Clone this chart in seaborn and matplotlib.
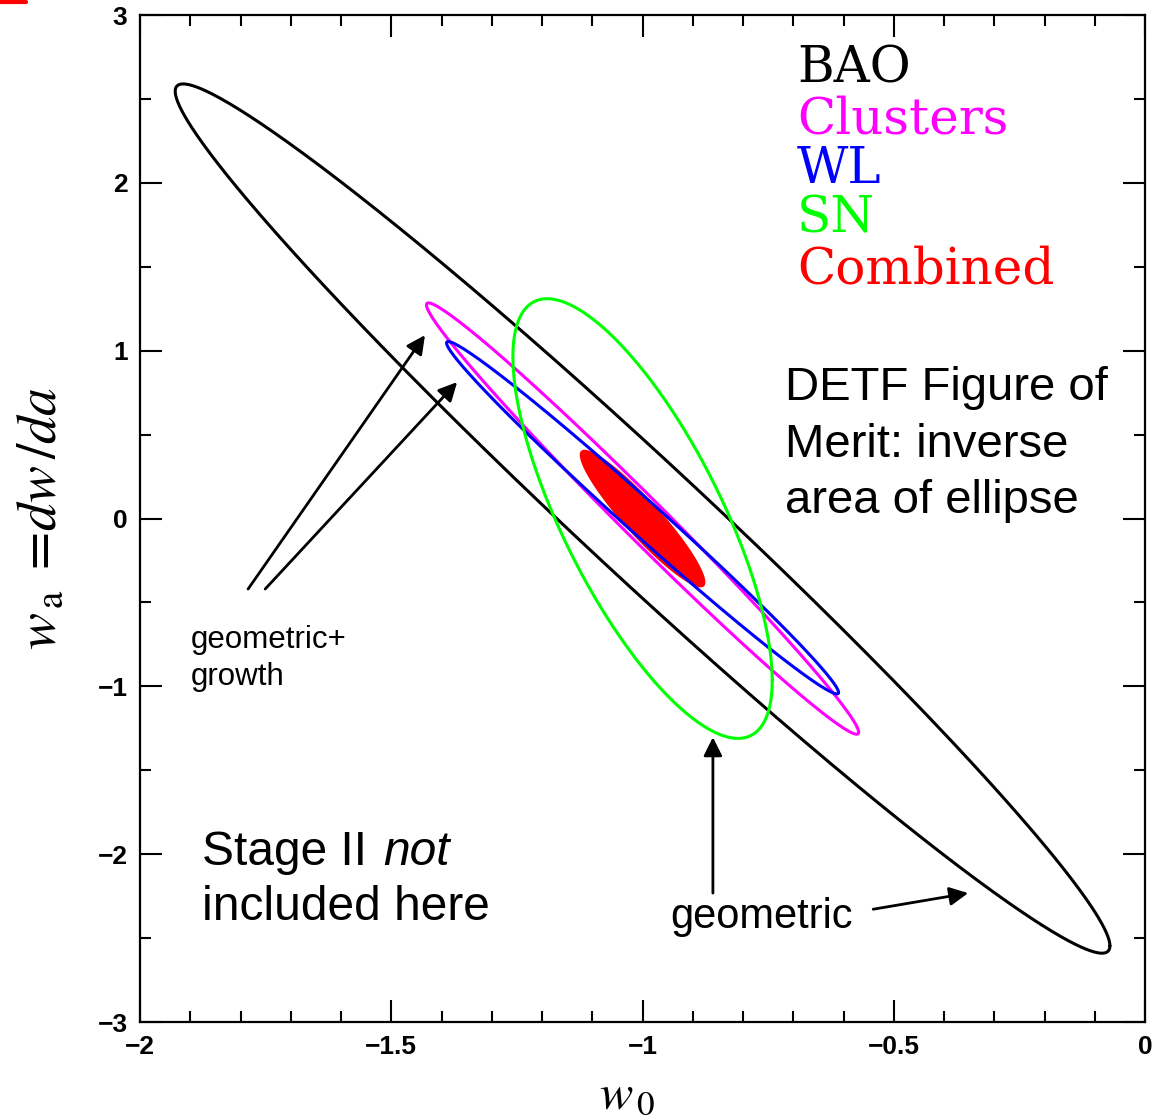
import numpy as np
import pandas as pd
import seaborn as sns
import matplotlib.pyplot as plt
from matplotlib.lines import Line2D
from matplotlib.ticker import MultipleLocator

# ellipse parameters (centre, half-extent in w0 / wa, correlation)
probes = ["BAO", "Clusters", "WL", "SN", "Combined"]
center_w0 = [-1.0, -1.0, -1.0, -1.0, -1.0]
center_wa = [0.0, 0.0, 0.005, 0.0, 0.0]
sigma_w0 = [0.93, 0.43, 0.39, 0.258, 0.125]
sigma_wa = [2.59, 1.285, 1.05, 1.31, 0.41]
rho = [-0.983, -0.9905, -0.9915, -0.736, -0.925]
colors = ["black", "#ff00ff", "#0000ff", "#00ff00", "#ff0000"]

xticks = [-2, -1.5, -1, -0.5, 0]
xtick_labels = ["\u22122", "\u22121.5", "\u22121", "\u22120.5", "0"]
yticks = [-3, -2, -1, 0, 1, 2, 3]
ytick_labels = ["\u22123", "\u22122", "\u22121", "0", "1", "2", "3"]

# arrows: (tail w0, tail wa, head w0, head wa)
arrows = [
    (-1.785, -0.42, -1.433, 1.093),
    (-1.751, -0.42, -1.369, 0.813),
    (-0.860, -2.232, -0.860, -1.303),
    (-0.541, -2.328, -0.352, -2.232),
]

sns.set_theme(style="ticks")
plt.rcParams["font.family"] = ["Liberation Sans", "DejaVu Sans"]
plt.rcParams["mathtext.fontset"] = "stix"
plt.rcParams["text.color"] = "black"
plt.rcParams["axes.labelcolor"] = "black"

t = np.linspace(0, 2 * np.pi, 600)
rows = []
for name, cx, cy, sx, sy, r in zip(probes, center_w0, center_wa, sigma_w0, sigma_wa, rho):
    x = cx + sx * np.cos(t)
    y = cy + sy * (r * np.cos(t) + np.sqrt(1 - r ** 2) * np.sin(t))
    rows.append(pd.DataFrame({"w0": x, "wa": y, "probe": name}))
ellipses = pd.concat(rows, ignore_index=True)

fig = plt.figure(figsize=(11.65, 11.2), dpi=100)
ax = fig.add_axes([0.1202, 0.0875, 0.8627, 0.899])

outlines = ellipses[ellipses["probe"] != "Combined"]
sns.lineplot(data=outlines, x="w0", y="wa", hue="probe", palette=dict(zip(probes, colors)),
             sort=False, estimator=None, linewidth=2.2, legend=False, ax=ax)
comb = ellipses[ellipses["probe"] == "Combined"]
ax.fill(comb["w0"], comb["wa"], color=colors[4], lw=0)

ax.set_xlim(-2, 0)
ax.set_ylim(-3, 3)
ax.set_xticks(xticks, labels=xtick_labels)
ax.set_yticks(yticks, labels=ytick_labels)
ax.xaxis.set_minor_locator(MultipleLocator(0.1))
ax.yaxis.set_minor_locator(MultipleLocator(0.5))
ax.tick_params(which="both", direction="in", top=True, right=True, width=1.5, colors="black")
ax.tick_params(which="major", length=16, pad=9, labelsize=19)
ax.tick_params(which="minor", length=8)
for lab in ax.get_xticklabels() + ax.get_yticklabels():
    lab.set_fontweight("bold")
for s in ax.spines.values():
    s.set_linewidth(1.6)
    s.set_color("black")

ax.set_xlabel(r"$w_{\,0}$", fontsize=36, va="top")
ax.xaxis.set_label_coords(0.485, -0.05)
ax.set_ylabel(r"$w_{\,\mathrm{a}}\;=\!dw\,/da$", fontsize=40)
ax.yaxis.set_label_coords(-0.072, 0.5)

# probe key, in the colour of each contour
key_wa = [2.60, 2.297, 1.999, 1.707, 1.403]
for name, c, yy in zip(probes, colors, key_wa):
    ax.text(-0.693, yy, name, color=c, fontsize=36, family="DejaVu Serif", va="baseline")

ax.text(-0.716, 0.706, "DETF Figure of", fontsize=34, va="baseline")
ax.text(-0.716, 0.366, "Merit: inverse", fontsize=34, va="baseline")
ax.text(-0.716, 0.032, "area of ellipse", fontsize=34, va="baseline")
ax.text(-1.877, -2.066, "Stage II", fontsize=34.5, va="baseline")
ax.text(-1.516, -2.066, "not", fontsize=34.5, va="baseline", style="italic")
ax.text(-1.877, -2.393, "included here", fontsize=34.5, va="baseline")
ax.text(-1.900, -0.772, "geometric+", fontsize=22.5, va="baseline")
ax.text(-1.900, -0.990, "growth", fontsize=22.5, va="baseline")
ax.text(-0.945, -2.441, "geometric", fontsize=30, va="baseline")

for x0, y0, x1, y1 in arrows:
    ax.annotate("", xy=(x1, y1), xytext=(x0, y0),
                arrowprops=dict(arrowstyle="-|>", color="black", lw=2, mutation_scale=28,
                                shrinkA=0, shrinkB=0))

fig.add_artist(Line2D([0, 0.022], [0.9985, 0.9985], color="red", lw=3, transform=fig.transFigure))

fig.savefig("out.png", dpi=100)
